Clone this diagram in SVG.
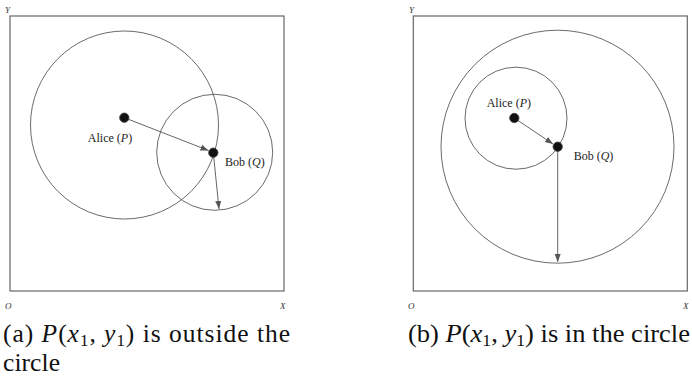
<svg xmlns="http://www.w3.org/2000/svg" width="692" height="378" viewBox="0 0 692 378">
<style>
.frame{fill:none;stroke:#666;stroke-width:1.2}
.circ{fill:none;stroke:#444;stroke-width:0.8}
.dot{fill:#111;stroke:#444;stroke-width:0.8}
.edge{fill:none;stroke:#555;stroke-width:0.9}
.lbl{font-family:"Liberation Serif",serif;font-size:12px;fill:#222}
.ax{font-family:"Liberation Serif",serif;font-size:9px;font-style:italic;fill:#333}
.cap{font-family:"Liberation Serif",serif;font-size:25.5px;fill:#111}
.it{font-style:italic}
</style>
<defs>
<marker id="ah" markerUnits="userSpaceOnUse" markerWidth="9" markerHeight="7" refX="8" refY="3" orient="auto">
<path d="M0,0 L8,3 L0,6 z" fill="#555"/>
</marker>
</defs>
<g id="panel-a">
<rect class="frame" x="10" y="16" width="274" height="275"/>
<text class="ax" x="5" y="13">Y</text>
<text class="ax" x="5" y="309">O</text>
<text class="ax" x="280" y="309">X</text>
<circle id="range-alice-a" class="circ" cx="124.5" cy="125" r="94"/>
<circle id="range-bob-a" class="circ" cx="214.7" cy="152.3" r="58"/>
</g>
<g id="connectors">
<line class="edge" x1="124.3" y1="117.7" x2="208.5" y2="150.5" marker-end="url(#ah)"/>
<line class="edge" x1="213.3" y1="152.7" x2="219" y2="209" marker-end="url(#ah)"/>
<line class="edge" x1="514.3" y1="118" x2="553" y2="144" marker-end="url(#ah)"/>
<line class="edge" x1="557.7" y1="146.7" x2="557.7" y2="262" marker-end="url(#ah)"/>
</g>
<g id="alice-a">
<circle class="dot" cx="124.3" cy="117.7" r="4.7"/>
<text class="lbl" x="110" y="142" text-anchor="middle">Alice (<tspan class="it">P</tspan>)</text>
</g>
<g id="bob-a">
<circle class="dot" cx="213.3" cy="152.7" r="4.7"/>
<text class="lbl" x="225" y="166">Bob (<tspan class="it">Q</tspan>)</text>
</g>
<g id="panel-b">
<rect class="frame" x="413.3" y="16" width="274" height="275"/>
<text class="ax" x="409" y="13">Y</text>
<text class="ax" x="408" y="309">O</text>
<text class="ax" x="683" y="309">X</text>
<circle id="range-bob-b" class="circ" cx="557.5" cy="146.7" r="116.5"/>
<circle id="range-alice-b" class="circ" cx="516" cy="118.2" r="51"/>
</g>
<g id="alice-b">
<circle class="dot" cx="514.3" cy="118" r="4.7"/>
<text class="lbl" x="486.7" y="107">Alice (<tspan class="it">P</tspan>)</text>
</g>
<g id="bob-b">
<circle class="dot" cx="557.7" cy="146.7" r="4.7"/>
<text class="lbl" x="573.7" y="160">Bob (<tspan class="it">Q</tspan>)</text>
</g>
<g id="captions">
<text class="cap" x="3" y="342" textLength="287" lengthAdjust="spacing">(a) <tspan class="it">P</tspan>(<tspan class="it">x</tspan><tspan font-size="17" dy="4">1</tspan><tspan dy="-4">, </tspan><tspan class="it">y</tspan><tspan font-size="17" dy="4">1</tspan><tspan dy="-4">) is outside the</tspan></text>
<text class="cap" x="3" y="371" textLength="57" lengthAdjust="spacing">circle</text>
<text class="cap" x="408" y="342" textLength="282" lengthAdjust="spacingAndGlyphs">(b) <tspan class="it">P</tspan>(<tspan class="it">x</tspan><tspan font-size="17" dy="4">1</tspan><tspan dy="-4">, </tspan><tspan class="it">y</tspan><tspan font-size="17" dy="4">1</tspan><tspan dy="-4">) is in the circle</tspan></text>
</g>
</svg>
